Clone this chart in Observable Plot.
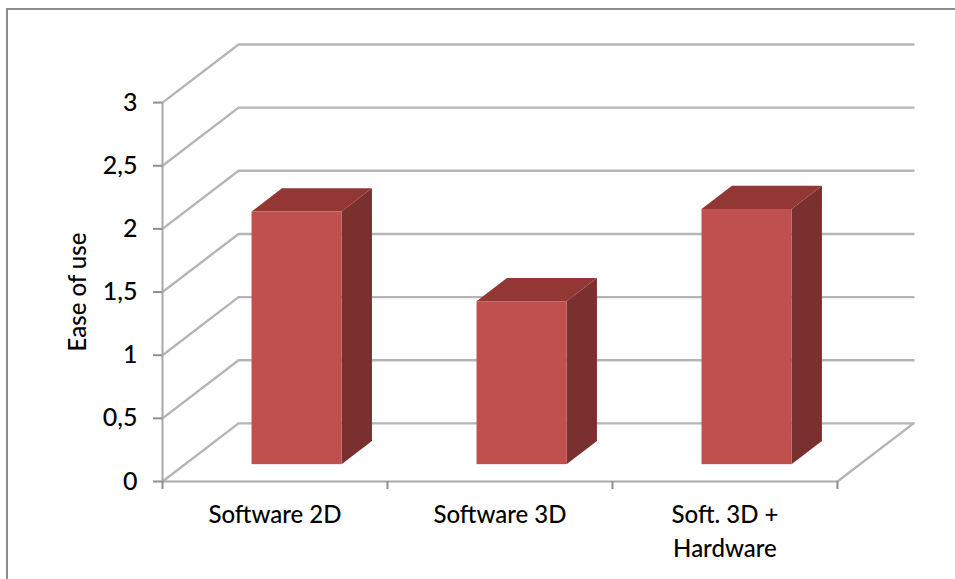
<!DOCTYPE html>
<html>
<head>
<meta charset="utf-8">
<script src="https://cdn.jsdelivr.net/npm/d3@7"></script>
<script src="https://cdn.jsdelivr.net/npm/@observablehq/plot@0.6"></script>
<style>
  html, body { margin: 0; padding: 0; background: #fff; overflow: hidden; }
  #chart { position: relative; width: 955px; height: 579px; }
  #chart svg { position: absolute; left: 0; top: 0; }
  #edge { position: absolute; left: 6px; top: 8px; right: 0; bottom: 0;
          border-left: 2px solid #8c8c8c; border-top: 2px solid #8c8c8c; }
</style>
</head>
<body>
<div id="chart"><div id="edge"></div></div>
<script>
// Ease-of-use scores per rendering approach
const categories = ["Software 2D", "Software 3D", "Soft. 3D +\nHardware"];
const easeOfUse = [2.0, 1.29, 2.02];
const yTicks = [0, 0.5, 1, 1.5, 2, 2.5, 3];

// Oblique projection: one unit of depth shifts a point right and up, in data units
const depthX = 0.338;
const depthY = 0.46;
const px = (x, d) => x + d * depthX;
const py = (y, d) => y + d * depthY;

// Bars occupy the middle of each category slot and part of the floor depth
const barWidth = 0.4;
const depthFront = 0.29;
const depthBack = 0.69;

const bars = categories.map((c, i) => ({
  name: c,
  value: easeOfUse[i],
  left: i + 0.5 - barWidth / 2,
  right: i + 0.5 + barWidth / 2
}));

// Side wall and back wall grid lines, one polyline per tick
const grid = yTicks.flatMap((v) => [
  {v, x: px(0, 0), y: py(v, 0)},
  {v, x: px(0, 1), y: py(v, 1)},
  {v, x: px(categories.length, 1), y: py(v, 1)}
]);

// Front edge of the floor, running back to the far corner
const floorEdge = [
  {x: px(categories.length, 1), y: py(0, 1)},
  {x: px(categories.length, 0), y: py(0, 0)}
];

// Polygons for the right side and the top of each bar
const sideFaces = bars.flatMap((b) => [
  {id: b.name, x: px(b.right, depthFront), y1: py(0, depthFront), y2: py(b.value, depthFront)},
  {id: b.name, x: px(b.right, depthBack), y1: py(0, depthBack), y2: py(b.value, depthBack)}
]);
const topFaces = bars.flatMap((b) => [
  {id: b.name, x1: px(b.left, depthFront), y1: py(b.value, depthFront), x2: px(b.left, depthBack), y2: py(b.value, depthBack)},
  {id: b.name, x1: px(b.right, depthFront), y1: py(b.value, depthFront), x2: px(b.right, depthBack), y2: py(b.value, depthBack)}
]);

const axisColor = "#a9a9a9";
const textFont = "Lato, sans-serif";

const plot = Plot.plot({
  width: 955,
  height: 579,
  marginLeft: 162,
  marginRight: 42,
  marginTop: 44,
  marginBottom: 98,
  style: {background: "transparent", fontFamily: textFont},
  x: {domain: [0, categories.length + depthX]},
  y: {domain: [0, 3 + depthY]},
  marks: [
    Plot.line(grid, {x: "x", y: "y", z: "v", stroke: "#b5b5b5", strokeWidth: 2.4}),
    Plot.line(floorEdge, {x: "x", y: "y", stroke: "#b5b5b5", strokeWidth: 2.4}),
    Plot.ruleX([0], {y1: 0, y2: 3, stroke: axisColor, strokeWidth: 2}),
    Plot.ruleY([0], {x1: 0, x2: categories.length, stroke: axisColor, strokeWidth: 2}),
    Plot.axisX({ticks: d3.range(categories.length + 1), tickSize: 8, tickFormat: () => "", stroke: "#8f8f8f", strokeWidth: 2, label: null}),
    Plot.axisY({
      ticks: yTicks,
      tickSize: 9,
      tickPadding: 16,
      tickFormat: (d) => String(d).replace(".", ","),
      stroke: "#8f8f8f",
      strokeWidth: 2,
      fontSize: 25,
      fontWeight: 500,
      fill: "#000",
      label: null
    }),
    Plot.area(sideFaces, {x1: "x", y1: "y1", y2: "y2", z: "id", fill: "#7a302e"}),
    Plot.area(topFaces, {x1: "x1", y1: "y1", x2: "x2", y2: "y2", z: "id", fill: "#933735"}),
    Plot.rect(bars, {
      x1: (b) => px(b.left, depthFront),
      x2: (b) => px(b.right, depthFront),
      y1: () => py(0, depthFront),
      y2: (b) => py(b.value, depthFront),
      fill: "#bf504d"
    }),
    Plot.text(bars, {
      x: (b) => (b.left + b.right) / 2,
      y: () => 0,
      text: "name",
      dy: 18,
      lineAnchor: "top",
      lineHeight: 1.4,
      fontSize: 24,
      fontWeight: 500,
      fill: "#000"
    }),
    Plot.text(["Ease of use"], {
      frameAnchor: "left",
      textAnchor: "middle",
      y: () => 1.5,
      dx: -84,
      rotate: -90,
      fontSize: 24,
      fontWeight: 500,
      fill: "#000"
    })
  ]
});
document.getElementById("chart").appendChild(plot);
</script>
</body>
</html>
